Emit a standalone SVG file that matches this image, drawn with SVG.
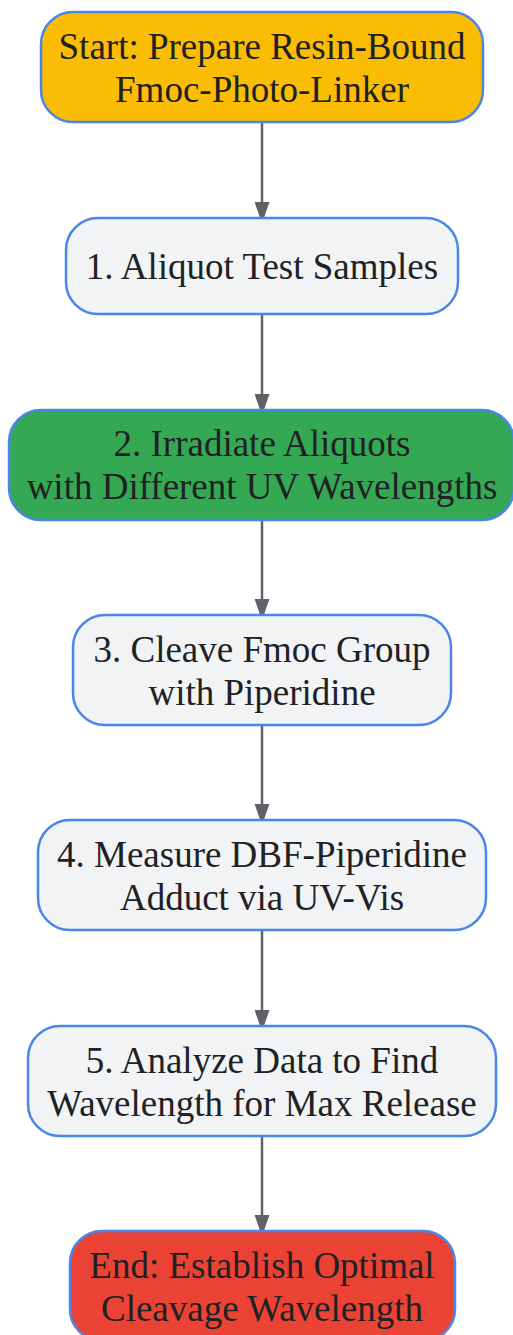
<svg xmlns="http://www.w3.org/2000/svg" width="513" height="1335" viewBox="0 0 513 1335">
<style>
.n{stroke:#4a86e8;stroke-width:2.5}
.t{font-family:"Liberation Serif",serif;font-size:37px;fill:#202124;text-anchor:middle}
.e{stroke:#5f6368;stroke-width:2.5;fill:none}
</style>
<defs>
<marker id="a" markerUnits="userSpaceOnUse" markerWidth="22" markerHeight="32" refX="21" refY="11" orient="auto" viewBox="0 0 32 22">
<path d="M0,0 L32,11 L0,22 Z" fill="#5f6368"/>
</marker>
</defs>
<rect width="513" height="1335" fill="#ffffff"/>
<g id="edges">
<line class="e" x1="262" y1="123" x2="262" y2="216" marker-end="url(#a)"/>
<line class="e" x1="262" y1="315" x2="262" y2="408" marker-end="url(#a)"/>
<line class="e" x1="262" y1="521" x2="262" y2="613" marker-end="url(#a)"/>
<line class="e" x1="262" y1="726" x2="262" y2="818" marker-end="url(#a)"/>
<line class="e" x1="262" y1="931" x2="262" y2="1024" marker-end="url(#a)"/>
<line class="e" x1="262" y1="1137" x2="262" y2="1229" marker-end="url(#a)"/>
</g>
<g id="start">
<rect class="n" x="41" y="12" width="442" height="110" rx="32" fill="#fbbc04"/>
<text class="t" x="262" y="59">Start: Prepare Resin-Bound</text>
<text class="t" x="262" y="102">Fmoc-Photo-Linker</text>
</g>
<g id="step1">
<rect class="n" x="66" y="218" width="392" height="96" rx="32" fill="#f1f3f4"/>
<text class="t" x="262" y="279">1. Aliquot Test Samples</text>
</g>
<g id="step2">
<rect class="n" x="9" y="410" width="505" height="110" rx="32" fill="#34a853"/>
<text class="t" x="262" y="456">2. Irradiate Aliquots</text>
<text class="t" x="262" y="499">with Different UV Wavelengths</text>
</g>
<g id="step3">
<rect class="n" x="73" y="615" width="378" height="110" rx="32" fill="#f1f3f4"/>
<text class="t" x="262" y="662">3. Cleave Fmoc Group</text>
<text class="t" x="262" y="705">with Piperidine</text>
</g>
<g id="step4">
<rect class="n" x="38" y="820" width="448" height="110" rx="32" fill="#f1f3f4"/>
<text class="t" x="262" y="867">4. Measure DBF-Piperidine</text>
<text class="t" x="262" y="910">Adduct via UV-Vis</text>
</g>
<g id="step5">
<rect class="n" x="28" y="1026" width="468" height="110" rx="32" fill="#f1f3f4"/>
<text class="t" x="262" y="1073">5. Analyze Data to Find</text>
<text class="t" x="262" y="1116">Wavelength for Max Release</text>
</g>
<g id="end">
<rect class="n" x="70" y="1231" width="385" height="110" rx="32" fill="#ea4335"/>
<text class="t" x="262" y="1278">End: Establish Optimal</text>
<text class="t" x="262" y="1321">Cleavage Wavelength</text>
</g>
</svg>
